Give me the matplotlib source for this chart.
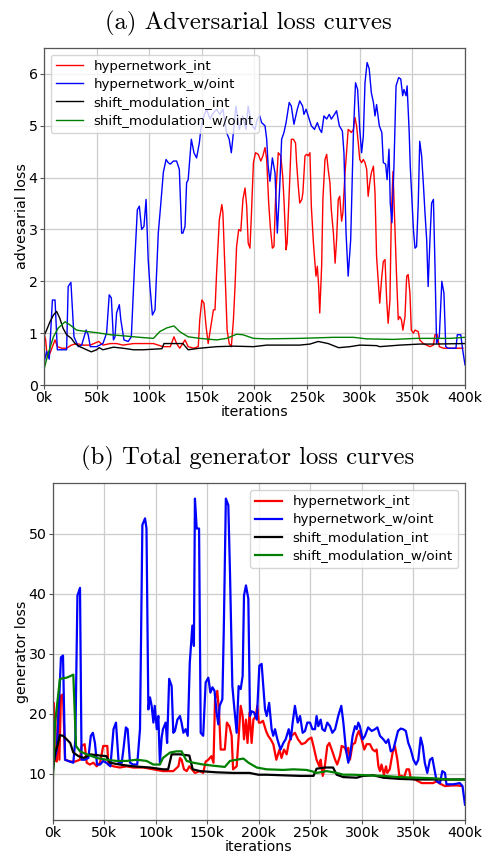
import matplotlib
matplotlib.use("Agg")
import matplotlib.pyplot as plt
from matplotlib.ticker import FuncFormatter, MultipleLocator

# ---------------- adversarial loss (iterations in thousands) ----------------
adv_hyper_int_x = [0, 1.6, 3, 5.7, 8, 10.5, 12.7, 17, 21.5, 26, 31, 37, 44, 52, 56, 63, 69, 75, 85, 94,
                   104, 113, 120, 123.5, 126, 129, 134, 137, 142, 146.6, 148, 150, 152, 154, 156, 158,
                   161, 162.5, 164, 166.6, 169, 170, 172, 174, 176, 178, 180, 181.5, 183, 185, 187, 189,
                   191, 192.6, 194, 195.7, 197, 199, 201, 203.6, 206, 208, 210, 211.6, 213.5, 215, 217,
                   218.5, 220, 222.6, 225, 226.8, 228, 230, 231, 233, 235, 237, 239, 240, 241.6, 243,
                   245, 246, 248, 249.6, 251, 252.7, 254, 256, 257.5, 258.4, 259.7, 261, 262, 263.8,
                   265, 267, 268.6, 270, 271.7, 273, 275, 276.6, 278, 279.6, 281, 282.8, 284, 286, 287,
                   289, 290.7, 292, 294, 295.5, 297, 298.6, 300, 301.8, 303.4, 305, 306.6, 308, 309.7,
                   311, 313, 314.5, 316, 317.7, 319, 321, 322.4, 324, 325.6, 327, 328.7, 330, 331.6,
                   335, 336.6, 338, 339.6, 341, 343, 344.6, 346, 347.7, 349, 351, 352.5, 355.6, 357,
                   360.4, 363.6, 366.7, 370, 371.5, 373.7, 375.6, 379.4, 385.7, 395, 398]
adv_hyper_int_y = [1.0, 0.87, 0.55, 0.61, 0.74, 0.87, 0.74, 0.71, 0.71, 0.77, 0.8, 0.77, 0.77, 0.84, 0.77,
                   0.8, 0.8, 0.77, 0.8, 0.8, 0.8, 0.74, 0.74, 0.93, 0.8, 0.71, 0.87, 0.74, 0.71, 0.74,
                   1.26, 1.64, 1.58, 1.13, 0.8, 1.06, 1.45, 1.45, 2.16, 3.19, 3.48, 3.32, 2.16, 1.06,
                   0.8, 0.74, 1.26, 1.9, 2.67, 3.0, 2.97, 3.58, 3.8, 3.45, 2.74, 2.64, 3.25, 4.29, 4.48,
                   4.45, 4.32, 4.42, 4.58, 4.35, 3.51, 3.06, 2.64, 2.67, 3.58, 4.48, 4.42, 4.03, 3.58,
                   2.61, 2.74, 3.71, 4.74, 4.74, 4.67, 4.29, 3.84, 3.51, 3.58, 3.71, 4.42, 4.45, 4.42,
                   4.48, 3.45, 2.74, 2.35, 2.1, 2.29, 1.9, 1.39, 2.29, 3.58, 4.35, 4.45, 4.16, 3.9,
                   3.38, 2.93, 2.35, 2.8, 3.58, 3.64, 3.16, 3.32, 4.09, 4.35, 4.93, 4.9, 4.87, 4.93,
                   5.16, 5.0, 4.67, 4.35, 4.29, 4.35, 4.29, 4.16, 3.64, 3.93, 4.09, 4.22, 3.71, 2.48,
                   1.97, 1.58, 2.1, 2.38, 2.42, 1.64, 1.19, 1.64, 3.25, 4.12, 2.1, 1.26, 1.32, 1.26,
                   1.06, 1.32, 2.1, 2.13, 1.77, 1.06, 1.0, 1.06, 1.03, 0.87, 0.8, 0.77, 0.74, 0.77,
                   0.97, 0.97, 0.74, 0.71, 0.71, 0.71, 0.71]

adv_hyper_woint_x = [0, 2.5, 5, 8, 10.5, 12.7, 18, 21.5, 23, 25.6, 28.5, 32.6, 35.8, 40, 42, 44, 50, 56,
                     59.5, 62, 64, 66, 67.5, 69, 71.6, 73, 76, 80, 83, 86, 88.7, 90.6, 92.8, 95, 97, 99,
                     100.7, 103, 105.5, 108.6, 110.8, 113.4, 116, 118, 120, 123, 126, 128.6, 130.8, 132,
                     134, 135.5, 137, 140, 142.5, 145, 147.6, 149, 151, 154.5, 157.7, 161, 164, 167,
                     170, 173.5, 176, 178, 180, 182.4, 185.6, 188.8, 192, 194, 197, 200.5, 202.7, 205,
                     206.8, 210, 211.6, 213, 214.7, 217, 219.5, 221.7, 224, 225.8, 228, 230, 233, 235,
                     237.5, 240.7, 243, 245.7, 247, 249, 251, 254, 257, 259.7, 262, 263.8, 266, 268.6,
                     271, 273, 276, 278, 280.6, 283.5, 285, 287, 289, 291.4, 294, 296, 298, 300, 301.8,
                     303.4, 305, 307, 309, 311, 313, 314.5, 316, 318.6, 321, 322.4, 324.6, 326, 327.8,
                     329, 330.6, 332.5, 334.5, 337, 339, 340.8, 342, 344, 345, 347, 348, 351, 352.5, 354,
                     355.6, 357, 358.8, 360.4, 362, 363.6, 365, 366.7, 368.3, 370, 371.5, 373, 375.6,
                     378, 380, 381.7, 384, 389, 391.4, 392.7, 396, 397.8, 400]
adv_hyper_woint_y = [0.42, 0.65, 0.5, 1.64, 1.64, 0.68, 0.68, 0.68, 1.9, 1.98, 0.93, 0.74, 0.77, 1.06,
                     0.97, 0.74, 0.74, 0.8, 1.0, 1.74, 1.68, 0.87, 0.93, 1.39, 1.55, 1.26, 0.87, 0.84,
                     0.93, 2.29, 3.38, 3.45, 3.0, 3.06, 3.58, 2.42, 1.9, 1.35, 1.45, 2.93, 3.45, 4.1,
                     4.35, 4.29, 4.26, 4.32, 4.32, 4.16, 2.93, 2.93, 3.06, 3.9, 3.96, 4.74, 4.48, 4.38,
                     4.67, 4.93, 5.13, 5.32, 5.13, 5.25, 5.32, 5.22, 5.32, 4.87, 4.74, 4.48, 4.87, 5.38,
                     4.93, 5.19, 4.93, 5.38, 5.03, 4.93, 5.13, 5.19, 5.06, 5.0, 4.74, 4.22, 3.93, 4.38,
                     4.09, 2.93, 3.84, 4.74, 4.87, 5.06, 5.45, 5.38, 5.03, 5.32, 5.48, 5.38, 5.22, 5.32,
                     5.19, 5.0, 4.93, 5.06, 4.93, 4.87, 5.19, 5.13, 5.22, 5.13, 5.22, 5.29, 5.0, 4.9,
                     4.48, 2.93, 2.1, 2.8, 4.87, 5.83, 5.7, 4.93, 4.48, 4.8, 5.83, 6.22, 6.1, 5.64, 5.45,
                     5.19, 5.41, 5.0, 4.87, 4.29, 4.26, 3.96, 4.55, 3.51, 3.13, 4.22, 5.77, 5.93, 5.9,
                     5.58, 5.7, 5.58, 5.77, 4.87, 4.22, 3.0, 2.64, 2.67, 3.51, 4.7, 4.42, 3.9, 3.32, 2.8,
                     1.9, 2.8, 3.51, 3.58, 2.29, 0.8, 0.93, 2.0, 1.77, 0.74, 0.71, 0.71, 0.71, 0.97,
                     0.97, 0.68, 0.39]

adv_shift_int_x = [0, 2.5, 5.7, 9, 12, 15, 18, 21.5, 26, 29.5, 34, 40.5, 45, 50, 52.5, 56, 66, 75, 85,
                   94, 112, 114, 132, 137, 148, 164, 180, 199, 211.6, 243, 252.7, 260.6, 270, 280,
                   290.7, 300, 316, 319, 338, 357, 370, 400]
adv_shift_int_y = [0.95, 1.06, 1.22, 1.35, 1.42, 1.29, 1.1, 0.97, 0.9, 0.8, 0.74, 0.68, 0.64, 0.68, 0.72,
                   0.68, 0.73, 0.71, 0.68, 0.68, 0.7, 0.8, 0.8, 0.68, 0.71, 0.74, 0.75, 0.74, 0.77,
                   0.77, 0.79, 0.84, 0.8, 0.72, 0.74, 0.77, 0.76, 0.74, 0.77, 0.79, 0.79, 0.8]

adv_shift_woint_x = [0, 4, 9, 13.6, 20, 24.7, 31, 37, 50, 63, 75, 91, 104, 110, 116.5, 123.5, 129, 137,
                     148, 164, 173.6, 183, 189, 199, 211.6, 243, 275, 294, 306.6, 332, 354, 370, 385.7,
                     400]
adv_shift_woint_y = [0.3, 0.61, 0.93, 1.1, 1.22, 1.16, 1.06, 1.04, 1.01, 0.97, 0.95, 0.92, 0.9, 1.03,
                     1.1, 1.14, 1.03, 0.93, 0.9, 0.87, 0.9, 0.98, 0.97, 0.9, 0.89, 0.9, 0.92, 0.92,
                     0.89, 0.88, 0.9, 0.9, 0.9, 0.92]

# ---------------- total generator loss (iterations in thousands) ----------------
gen_hyper_int_x = [0, 1, 2.3, 4, 5, 6.5, 8, 10, 12, 17, 21.7, 26.5, 28, 31, 33, 36, 39.5, 42.7, 46, 49,
                   53, 54, 59, 65, 71.8, 78, 88, 97.7, 107, 117, 122, 123.5, 125, 127.4, 130, 132.6,
                   135, 138, 143, 146, 148.4, 151, 154, 156, 157.5, 159.7, 161.4, 163, 165.6, 167, 169,
                   171.4, 173.6, 175, 178.5, 180, 182.4, 184.3, 185.6, 187.5, 189, 191, 193, 194.7,
                   197, 198.5, 200, 201.8, 204, 207, 209, 211.5, 214, 217, 220, 222, 224.4, 227, 229,
                   231.8, 235, 238, 241.5, 244.8, 248, 251, 253.8, 256, 258.7, 260, 262, 264, 266.4,
                   268.4, 270.7, 274, 276, 278.7, 280.4, 283.6, 285, 286.8, 288.4, 291, 293.3, 295,
                   297, 299.8, 302.3, 304.6, 307.8, 310.4, 312.7, 314.3, 316, 317.5, 319, 321.4, 323.4,
                   324.6, 327, 329.8, 332, 334.4, 336.3, 338.6, 340.8, 343.4, 345.7, 347.3, 351.5,
                   354.7, 358, 362.7, 369, 372.5, 375.7, 380.6, 387, 393.5, 396.8]
gen_hyper_int_y = [19, 21.8, 12.3, 12, 21.8, 12.3, 23, 23.2, 12.3, 12, 12, 12.3, 14.6, 14.9, 11.8, 11.5,
                   11.8, 11.2, 11.8, 14.6, 14.6, 11.5, 11.2, 11, 11.2, 11, 11, 10.7, 10.4, 10.4, 11.2,
                   12.6, 12.3, 10.7, 10.4, 11.2, 10.7, 10.1, 10.4, 10.1, 12, 12.3, 12.9, 11.8, 22.4,
                   23.8, 20.2, 14, 14, 14, 18.5, 17.9, 16.3, 10.7, 11.2, 15.1, 21.3, 19.6, 15.7, 19,
                   15.1, 20.2, 15.1, 19, 19.6, 21.3, 18.5, 18.5, 18.8, 17.1, 16.3, 15.7, 14.9, 12.3, 14,
                   12.6, 14, 13.2, 15.1, 16.3, 16.8, 15.7, 14.9, 15.1, 15.7, 16, 14, 12.3, 11.2, 12.3,
                   9.6, 11.2, 14.6, 15.1, 14, 12.3, 11.5, 12.9, 14.6, 14.3, 13.5, 14.3, 12.3, 14.9,
                   15.1, 16.3, 17.1, 15.7, 14, 14.9, 14.9, 14, 13.7, 14, 11.2, 10.4, 11.5, 9.8, 11.2,
                   10.1, 10.7, 13.5, 14.6, 12.3, 9.6, 9.6, 9.3, 10.7, 10.7, 9.3, 9.0, 8.7, 8.4, 8.4,
                   8.4, 8.7, 8.3, 7.9, 8.0, 8.0, 7.9]

gen_hyper_woint_x = [0, 1.6, 4, 6.5, 8, 10, 12, 15, 20, 22, 24, 26.5, 28, 31, 34.6, 37, 39, 41, 43, 46,
                     49, 52, 56, 59, 61.4, 64, 67, 68.6, 71, 72.7, 75, 78, 82, 84.7, 87, 89.6, 91, 92.8,
                     94.4, 96, 97.7, 99, 101, 102.5, 104, 105.7, 107, 109.6, 111, 113, 115.4, 117, 118.6,
                     121, 123.5, 125, 126.8, 129, 131, 133, 135.5, 137, 138, 139.7, 142, 143.6, 146,
                     148.4, 151, 153, 155, 157, 159, 160.7, 162, 164.6, 166, 168, 170.4, 172, 174.3, 176,
                     178.5, 180.4, 182.4, 184.3, 185.6, 187.5, 189.8, 191.4, 193, 195.3, 198, 200.5,
                     202.7, 206, 207.6, 210, 212.4, 214, 215.7, 218, 221, 223.8, 226, 229, 231, 232.8,
                     235, 237.7, 240, 242.5, 244.8, 247, 249.6, 252, 254.5, 256, 257.7, 260, 261.6, 264,
                     266.4, 269, 271.3, 274, 277, 280, 282, 284.5, 286.8, 288.4, 291, 293.3, 295, 296.5,
                     298, 300.7, 303, 306, 309.5, 312.7, 315, 317.5, 320.8, 323.4, 325.6, 328, 330.5, 333,
                     335, 337.6, 340, 342.6, 345, 347.4, 350, 352.5, 354.7, 357, 359, 361, 363.4, 366,
                     368.3, 371, 372.5, 375.7, 378, 380.6, 382, 388.7, 395, 397.6, 400]
gen_hyper_woint_y = [17.0, 12.3, 14, 23, 29.4, 29.7, 12.3, 12.1, 11.8, 15.7, 39.7, 41, 12.3, 12.3, 12.6,
                     16.3, 16.8, 15.1, 11.5, 11.5, 12.1, 11.8, 11.2, 17.4, 18.5, 11.8, 11.8, 14, 17.7,
                     17.4, 11.8, 11.5, 11.5, 17.4, 51.5, 52.6, 50.9, 20.7, 22.7, 21.3, 18.5, 21.3, 17.4,
                     19.6, 11.8, 16, 17.4, 18.5, 15.1, 25.8, 24.6, 16.8, 17.1, 19, 19.6, 18.5, 16.8,
                     17.4, 16.3, 28.5, 34.7, 31.3, 55.9, 50.9, 50.9, 16.8, 16.3, 25.2, 26, 23.5, 24.4,
                     23.8, 20.2, 18.2, 21.3, 22.4, 34.1, 55.9, 54.8, 43.6, 24.6, 21.3, 16.8, 24.6, 24.1,
                     26.3, 39.7, 41.4, 39.2, 19.6, 20.4, 20.2, 19, 28, 28.3, 20.7, 19.6, 21.8, 17.4,
                     16.3, 17.4, 15.7, 14, 15.1, 15.7, 17.4, 15.7, 18.5, 21.3, 18.5, 19.6, 16.8, 17.1,
                     18.5, 18.5, 17.4, 17.4, 19.6, 17.9, 19, 17.4, 17.1, 18.5, 17.9, 16.8, 17.4, 19.6,
                     21.3, 18.5, 14, 11.8, 12.9, 16.3, 17.9, 17.4, 18.5, 17.9, 15.7, 16.3, 17.7, 17.1,
                     17.4, 17.7, 16.3, 15.7, 15.1, 15.7, 13.7, 14, 15.7, 17.1, 17.5, 17.4, 17.1, 15.1,
                     14, 12.3, 11.5, 12.3, 16, 14.6, 11.8, 10.1, 12.3, 12.6, 10.1, 8.7, 8.4, 10.4, 10.1,
                     8.2, 8.2, 8.4, 7.9, 4.8]

gen_shift_int_x = [0, 2.3, 4.5, 7, 10, 13.6, 17, 20, 25, 30, 33.6, 36, 46, 52, 55.6, 65, 78, 94.4, 107,
                   112, 115.4, 123.5, 132.6, 135.8, 143, 159, 175, 191, 199.5, 207.6, 223.8, 240, 253,
                   256, 264, 272, 275.5, 282, 295, 301, 311, 320.8, 337, 353.5, 369.6, 385.7, 400]
gen_shift_int_y = [10.1, 13.5, 14.6, 16.4, 16.3, 15.7, 15.1, 13.5, 12.9, 12.6, 12.9, 13.2, 13.0, 12.9,
                   11.8, 11.5, 11.2, 11, 10.7, 10.7, 13.2, 13.2, 13.0, 10.7, 10.4, 10.2, 10.1, 10.1,
                   9.8, 9.8, 9.7, 9.6, 9.6, 10.8, 11, 11, 9.8, 9.4, 9.3, 9.6, 9.7, 9.3, 9.1, 9.0, 9.0,
                   9.0, 9.0]

gen_shift_woint_x = [0, 2.3, 4.5, 7, 13.6, 20, 22.6, 26.5, 33, 42.7, 52, 62, 71.8, 81.5, 91, 97.7, 104,
                     107, 113.8, 120, 125, 130, 136.5, 146, 156, 167, 172, 178.5, 185, 190, 198, 207.6,
                     223.8, 233.5, 246, 251, 256, 266, 275.5, 282, 291.7, 304.6, 320.8, 337, 353.5,
                     369.6, 385.7, 400]
gen_shift_woint_y = [7.9, 18.5, 21.8, 25.8, 26, 26.5, 14.6, 13.7, 13.2, 12.6, 12.3, 12.1, 12.1, 12.3,
                     12.1, 11.5, 11.5, 12.6, 13.5, 13.7, 13.7, 12.1, 11.8, 11.5, 11.3, 11.1, 12.1, 12.3,
                     12.5, 11.8, 11, 10.7, 10.6, 10.7, 10.6, 10.4, 10.1, 10.4, 10.1, 9.8, 9.8, 9.7, 9.6,
                     9.4, 9.3, 9.2, 9.0, 9.0]

series_labels = ["hypernetwork_int", "hypernetwork_w/oint",
                 "shift_modulation_int", "shift_modulation_w/oint"]
series_colors = ["red", "blue", "black", "green"]

adv_series = [(adv_hyper_int_x, adv_hyper_int_y), (adv_hyper_woint_x, adv_hyper_woint_y),
              (adv_shift_int_x, adv_shift_int_y), (adv_shift_woint_x, adv_shift_woint_y)]
gen_series = [(gen_hyper_int_x, gen_hyper_int_y), (gen_hyper_woint_x, gen_hyper_woint_y),
              (gen_shift_int_x, gen_shift_int_y), (gen_shift_woint_x, gen_shift_woint_y)]

TITLE_FONT = "cmr10"
k_fmt = FuncFormatter(lambda v, _: f"{int(round(v / 1000))}k")


def style_axes(ax):
    ax.set_xlim(0, 400000)
    ax.xaxis.set_major_locator(MultipleLocator(50000))
    ax.xaxis.set_major_formatter(k_fmt)
    ax.grid(True, color="#cccccc", linewidth=0.9)
    ax.set_axisbelow(True)
    for s in ax.spines.values():
        s.set_color("#555555")
        s.set_linewidth(0.9)
    ax.tick_params(labelsize=10.2, length=3, pad=1.5, color="#555555")
    ax.set_xlabel("iterations", fontsize=10.2, labelpad=0)


def style_legend(ax, loc):
    ax.legend(loc=loc, fontsize=9.6, handlelength=2.0, handletextpad=0.8,
              labelspacing=0.38, borderaxespad=0.5)


fig = plt.figure(figsize=(4.87, 8.56), dpi=100)

# (a) adversarial loss
ax1 = fig.add_axes([0.0903, 0.5502, 0.8645, 0.3937])
for (xs, ys), lab, col in zip(adv_series, series_labels, series_colors):
    ax1.plot([x * 1000 for x in xs], ys, color=col, linewidth=1.0, label=lab)
ax1.set_ylim(0, 6.5)
ax1.yaxis.set_major_locator(MultipleLocator(1))
style_axes(ax1)
ax1.set_ylabel("advesarial loss", fontsize=10.2, labelpad=-0.5)
style_legend(ax1, "upper left")
fig.text(0.509, 0.973, "(a) Adversarial loss curves", family=TITLE_FONT,
         fontsize=17.8, ha="center", va="center")

# (b) total generator loss
ax2 = fig.add_axes([0.1082, 0.0421, 0.8466, 0.3933])
for (xs, ys), lab, col in zip(gen_series, series_labels, series_colors):
    ax2.plot([x * 1000 for x in xs], ys, color=col, linewidth=1.6, label=lab)
ax2.yaxis.set_major_locator(MultipleLocator(10))
style_axes(ax2)
ax2.set_ylabel("generator loss", fontsize=10.2, labelpad=-0.5)
style_legend(ax2, "upper right")
fig.text(0.509, 0.465, "(b) Total generator loss curves", family=TITLE_FONT,
         fontsize=17.8, ha="center", va="center")

fig.savefig("out.png", dpi=100)
